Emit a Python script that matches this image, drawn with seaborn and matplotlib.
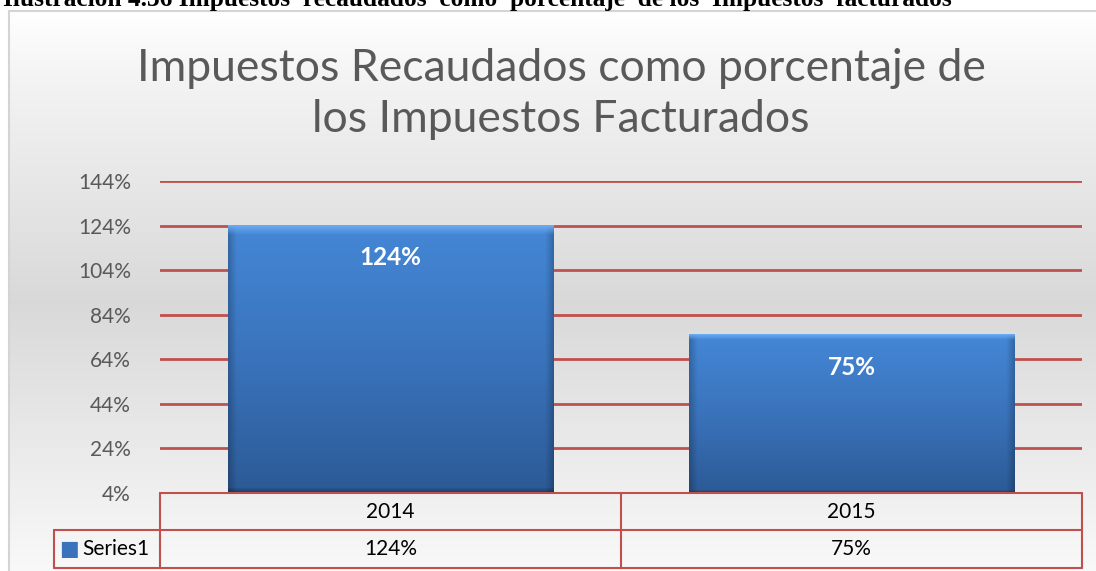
import numpy as np
import pandas as pd
import seaborn as sns
import matplotlib.pyplot as plt
from matplotlib.colors import LinearSegmentedColormap
from matplotlib.lines import Line2D

years = ['2014', '2015']
recaudo = [124, 75]
serie = 'Series1'
yticks = [4, 24, 44, 64, 84, 104, 124, 144]

caption = 'Ilustración 4.36 Impuestos  recaudados  como  porcentaje  de los  Impuestos  facturados'
titulo = 'Impuestos Recaudados como porcentaje de\nlos Impuestos Facturados'

red = '#c0504d'
gray_txt = '#595959'

sns.set_theme(style='white')
plt.rcParams['font.family'] = ['Lato', 'DejaVu Sans']

W, H = 1096, 571
fig = plt.figure(figsize=(W / 100, H / 100), dpi=100)
fig.patch.set_facecolor('white')


def fx(px):
    return px / W


def fy(py):
    return 1 - py / H


# fondo degradado del area de grafico
bg = fig.add_axes([fx(9), 0, 1 - fx(9), fy(11)], zorder=-5)
t = np.linspace(0, 1, 300)
g = np.interp(t, [0, 0.12, 0.52, 1.0], [1.0, 0.955, 0.85, 0.975])
bg.imshow(np.dstack([g, g, g]).reshape(300, 1, 3), aspect='auto',
          extent=(0, 1, 0, 1))
bg.set_axis_off()
fig.add_artist(Line2D([fx(9), 1], [fy(11), fy(11)], color='#d4d4d4', lw=1.5))
fig.add_artist(Line2D([fx(9), fx(9)], [0, fy(11)], color='#d4d4d4', lw=1.5))

# titulo del documento (cortado arriba, como en el original)
fig.text(fx(3), fy(6), caption, family='Liberation Serif', fontweight='bold',
         fontsize=18.3, ha='left', va='baseline', color='black')

fig.text(fx(561), fy(94), titulo, ha='center', va='center', fontsize=32,
         color=gray_txt, linespacing=1.32)

df = pd.DataFrame({'anio': years, 'valor': recaudo})
ax = fig.add_axes([fx(160), fy(493), fx(1082) - fx(160), fy(181) - fy(493)])
ax.patch.set_alpha(0)
sns.barplot(data=df, x='anio', y='valor', ax=ax, width=0.705, color='#3f7cc8',
            saturation=1, zorder=3)
ax.set_xlim(-0.5, 1.5)
ax.set_ylim(4, 144)
ax.set_yticks(yticks)
ax.set_yticklabels([f'{v}%' for v in yticks], color=gray_txt, fontsize=15)
ax.tick_params(axis='y', length=0, pad=21)
ax.set_xticks([])
ax.set_xlabel('')
ax.set_ylabel('')
for s in ax.spines.values():
    s.set_visible(False)
for v in yticks[1:]:
    ax.axhline(v, color=red, lw=2, zorder=1)

# degradado en las barras
vert = LinearSegmentedColormap.from_list('bar', ['#2c5a96', '#3a73bb', '#4487d6'])
for p, v in zip(ax.patches, recaudo):
    x0, w = p.get_x(), p.get_width()
    y0, y1 = 4, p.get_height()
    p.set_alpha(0)
    yy = np.linspace(0, 1, 300)[:, None]
    xx = np.linspace(0, 1, 300)[None, :]
    edge = 1 - 0.22 * (np.clip(1 - xx / 0.025, 0, 1) + np.clip((xx - 0.975) / 0.025, 0, 1))
    img = vert(yy)[:, :, :3] * edge[:, :, None]
    hl = np.clip((yy - 0.965) / 0.035, 0, 1)
    img = img * (1 - hl[:, :, None]) + np.array([0.42, 0.67, 0.95]) * hl[:, :, None]
    bot = np.clip((0.02 - yy) / 0.02, 0, 1)
    img = img * (1 - 0.35 * bot[:, :, None])
    ax.imshow(img, extent=(x0, x0 + w, y0, y1), origin='lower',
              aspect='auto', zorder=4)
    ax.text(x0 + w / 2, v - 14.5, f'{v}%', ha='center', va='center',
            color='white', fontweight='bold', fontsize=17.5, zorder=5)
ax.set_xlim(-0.5, 1.5)
ax.set_ylim(4, 144)

# tabla de datos
tr = ax.get_xaxis_transform()
r1 = -37 / 312
r2 = -75 / 312
xl = -106 / 922 * 2 - 0.5
kw = dict(color=red, lw=1.5, transform=tr, clip_on=False, zorder=6)
ax.add_line(Line2D([-0.5, 1.5], [0, 0], **kw))
ax.add_line(Line2D([xl, 1.5], [r1, r1], **kw))
ax.add_line(Line2D([xl, 1.5], [r2, r2], **kw))
ax.add_line(Line2D([-0.5, -0.5], [0, r2], **kw))
ax.add_line(Line2D([0.5, 0.5], [0, r2], **kw))
ax.add_line(Line2D([1.5, 1.5], [0, r2], **kw))
ax.add_line(Line2D([xl, xl], [r1, r2], **kw))
for i, (yr, v) in enumerate(zip(years, recaudo)):
    ax.text(i, r1 / 2, yr, transform=tr, ha='center', va='center',
            fontsize=15, color='black')
    ax.text(i, (r1 + r2) / 2, f'{v}%', transform=tr, ha='center', va='center',
            fontsize=15, color='black')
ax.text(xl + 0.012, (r1 + r2) / 2, '\u25a0', transform=tr, ha='left',
        va='center', fontsize=15, color='#3a73bb', family='DejaVu Sans')
ax.text(xl + 0.062, (r1 + r2) / 2, serie, transform=tr, ha='left',
        va='center', fontsize=15, color='black')

fig.savefig('out.png', dpi=100)
